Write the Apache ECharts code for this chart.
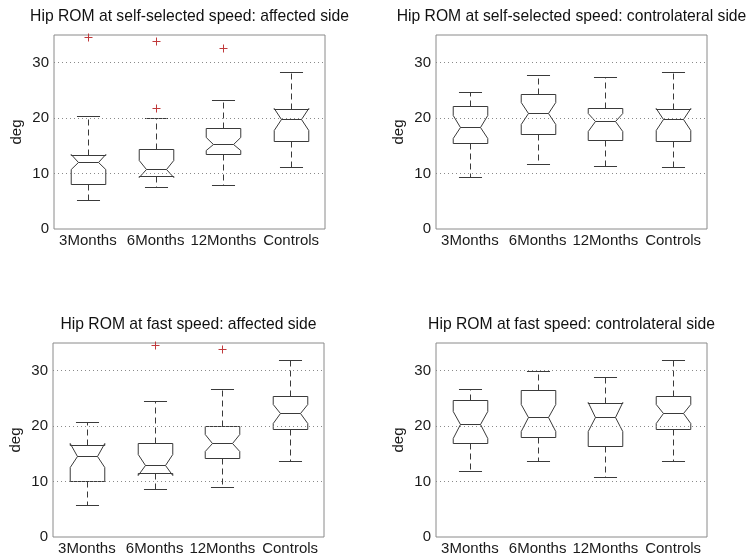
<!DOCTYPE html>
<html>
<head>
<meta charset="utf-8">
<script src="https://cdn.jsdelivr.net/npm/echarts@6.0.0/dist/echarts.min.js"></script>
<style>
  html, body { margin: 0; padding: 0; background: #fff; }
  #main { width: 746px; height: 558px; }
</style>
</head>
<body>
<div id="main"></div>
<script>
var categories = ['3Months', '6Months', '12Months', 'Controls'];

// each box: [lower whisker, Q1, notch low, median, notch high, Q3, upper whisker]
var selfAffected = [
  [5.2, 8.2, 10.8, 12.0, 13.6, 13.3, 20.4],
  [7.6, 9.6, 9.3, 10.9, 12.5, 14.4, 20.1],
  [7.9, 13.6, 14.2, 15.4, 16.6, 18.3, 23.3],
  [11.1, 15.8, 17.9, 19.8, 21.8, 21.6, 28.3]
];
var selfContra = [
  [9.3, 15.6, 16.4, 18.4, 20.6, 22.2, 24.7],
  [11.7, 17.1, 18.9, 20.9, 23.0, 24.4, 27.7],
  [11.3, 16.0, 17.7, 19.5, 21.0, 21.8, 27.4],
  [11.1, 15.8, 17.9, 19.8, 21.8, 21.6, 28.3]
];
var fastAffected = [
  [5.8, 10.1, 12.6, 14.7, 16.9, 16.6, 20.8],
  [8.6, 11.5, 11.1, 13.0, 14.9, 16.9, 24.6],
  [9.0, 14.3, 15.5, 17.0, 18.5, 20.0, 26.7],
  [13.7, 19.5, 20.6, 22.3, 24.0, 25.4, 32.0]
];
var fastContra = [
  [11.9, 17.0, 17.8, 20.3, 22.8, 24.8, 26.7],
  [13.7, 18.1, 19.2, 21.6, 24.0, 26.6, 29.9],
  [10.8, 16.4, 19.1, 21.7, 24.4, 24.1, 28.9],
  [13.7, 19.5, 20.6, 22.3, 24.0, 25.4, 32.0]
];

// outliers: [category index, value]
var selfAffectedOut = [[0, 34.7], [1, 34.0], [1, 21.9], [2, 32.6]];
var selfContraOut = [];
var fastAffectedOut = [[1, 34.6], [2, 33.9]];
var fastContraOut = [];

var titles = [
  'Hip ROM at self-selected speed: affected side',
  'Hip ROM at self-selected speed: controlateral side',
  'Hip ROM at fast speed: affected side',
  'Hip ROM at fast speed: controlateral side'
];
var yTicks = [0, 10, 20, 30];
var gridTicks = [10, 20, 30];

var panels = [
  { boxes: selfAffected, out: selfAffectedOut, left: 54, top: 35 },
  { boxes: selfContra, out: selfContraOut, left: 436, top: 35 },
  { boxes: fastAffected, out: fastAffectedOut, left: 53, top: 343 },
  { boxes: fastContra, out: fastContraOut, left: 436, top: 343 }
];
var plotW = 271, plotH = 194;
var ink = '#3a3a3a';
var fontFamily = '"Liberation Sans", Arial, Helvetica, sans-serif';

function renderBox(params, api) {
  var i = api.value(0);
  var band = api.size([1, 0])[0];
  var half = band * 0.255;
  var inner = half * 0.58;
  var cap = band * 0.17;
  var cx = Math.round(api.coord([i, 0])[0]) + 0.5;
  function y(d) { return Math.round(api.coord([i, api.value(d)])[1]) + 0.5; }
  var wLo = y(1), q1 = y(2), nLo = y(3), med = y(4), nHi = y(5), q3 = y(6), wHi = y(7);
  var solid = { stroke: ink, lineWidth: 1, fill: null };
  var dashed = { stroke: ink, lineWidth: 1, lineDash: [6, 4], fill: null };
  return {
    type: 'group',
    children: [
      { type: 'line', shape: { x1: cx, y1: q3, x2: cx, y2: wHi }, style: dashed },
      { type: 'line', shape: { x1: cx, y1: q1, x2: cx, y2: wLo }, style: dashed },
      { type: 'line', shape: { x1: cx - cap, y1: wHi, x2: cx + cap, y2: wHi }, style: solid },
      { type: 'line', shape: { x1: cx - cap, y1: wLo, x2: cx + cap, y2: wLo }, style: solid },
      {
        type: 'polygon',
        shape: {
          points: [
            [cx - half, q1], [cx - half, nLo], [cx - inner, med], [cx - half, nHi], [cx - half, q3],
            [cx + half, q3], [cx + half, nHi], [cx + inner, med], [cx + half, nLo], [cx + half, q1]
          ]
        },
        style: { stroke: ink, lineWidth: 1, fill: 'none' }
      },
      { type: 'line', shape: { x1: cx - inner, y1: med, x2: cx + inner, y2: med }, style: solid }
    ]
  };
}

function renderOutlier(params, api) {
  var p = api.coord([api.value(0), api.value(1)]);
  var x = Math.round(p[0]) + 0.5, yy = Math.round(p[1]) + 0.5, s = 4;
  var st = { stroke: '#c0393b', lineWidth: 1 };
  return {
    type: 'group',
    children: [
      { type: 'line', shape: { x1: x - s, y1: yy, x2: x + s, y2: yy }, style: st },
      { type: 'line', shape: { x1: x, y1: yy - s, x2: x, y2: yy + s }, style: st }
    ]
  };
}

var grids = [], xAxes = [], yAxes = [], series = [], titleOpts = [];
panels.forEach(function (p, k) {
  grids.push({
    left: p.left, top: p.top, width: plotW, height: plotH,
    show: true, borderColor: '#8a8a8a', borderWidth: 1, backgroundColor: 'transparent'
  });
  xAxes.push({
    type: 'category', gridIndex: k, data: categories,
    axisLine: { show: false }, axisTick: { show: false }, splitLine: { show: false },
    axisLabel: { interval: 0, fontSize: 15, color: '#1a1a1a', margin: 4, fontFamily: fontFamily }
  });
  yAxes.push({
    type: 'value', gridIndex: k, min: 0, max: 35, interval: 10,
    axisLine: { show: false }, axisTick: { show: false },
    axisLabel: {
      fontSize: 15, color: '#1a1a1a', margin: 5, fontFamily: fontFamily,
      formatter: function (v) { return yTicks.indexOf(v) >= 0 ? String(v) : ''; }
    },
    splitLine: { show: false },
    name: 'deg', nameLocation: 'middle', nameRotate: 90, nameGap: 30,
    nameTextStyle: { fontSize: 15, color: '#1a1a1a', fontFamily: fontFamily }
  });
  series.push({
    type: 'custom', xAxisIndex: k, yAxisIndex: k, clip: false,
    renderItem: renderBox,
    encode: { x: 0, y: [1, 2, 3, 4, 5, 6, 7] },
    data: p.boxes.map(function (b, i) { return [i].concat(b); }),
    silent: true,
    markLine: {
      silent: true, symbol: 'none', animation: false,
      label: { show: false },
      lineStyle: { color: '#8a8a8a', type: [1, 3], width: 1 },
      data: gridTicks.map(function (v) { return { yAxis: v }; })
    }
  });
  if (p.out.length) {
    series.push({
      type: 'custom', xAxisIndex: k, yAxisIndex: k, clip: false,
      renderItem: renderOutlier,
      encode: { x: 0, y: 1 },
      data: p.out,
      silent: true
    });
  }
  titleOpts.push({
    text: titles[k],
    left: p.left + plotW / 2, top: p.top - 26,
    textAlign: 'center', padding: 0,
    textStyle: { fontSize: 15.7, fontWeight: 'normal', color: '#111', fontFamily: fontFamily }
  });
});

var myChart = echarts.init(document.getElementById('main'));
var option = {
  animation: false,
  backgroundColor: '#fff',
  textStyle: { fontFamily: fontFamily },
  title: titleOpts,
  grid: grids,
  xAxis: xAxes,
  yAxis: yAxes,
  series: series
};
option && myChart.setOption(option);
</script>
</body>
</html>
